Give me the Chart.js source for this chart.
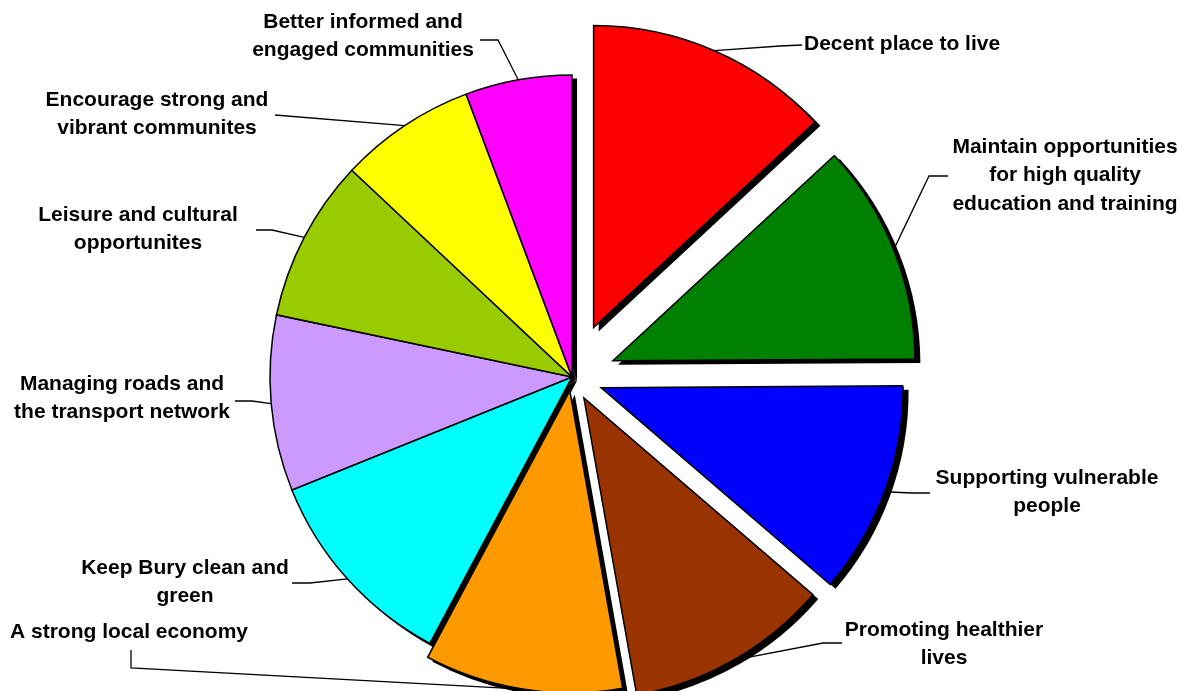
<!DOCTYPE html>
<html>
<head>
<meta charset="utf-8">
<script src="https://cdn.jsdelivr.net/npm/chart.js@4"></script>
<style>
  html, body { margin: 0; background: #fff; }
  #wrap { width: 1185px; height: 691px; }
</style>
</head>
<body>
<div id="wrap"><canvas id="pie"></canvas></div>
<script>
const categories = [
  ['Decent place to live'],
  ['Maintain opportunities', 'for high quality', 'education and training'],
  ['Supporting vulnerable', 'people'],
  ['Promoting healthier', 'lives'],
  ['A strong local economy'],
  ['Keep Bury clean and', 'green'],
  ['Managing roads and', 'the transport network'],
  ['Leisure and cultural', 'opportunites'],
  ['Encourage strong and', 'vibrant communites'],
  ['Better informed and', 'engaged communities']
];
const shares = [13.1, 11.8, 11.4, 10.9, 10.6, 11.1, 9.4, 8.7, 7.3, 5.7];

const sliceColors = ['#FF0000', '#008000', '#0000FF', '#993300', '#FF9900',
                     '#00FFFF', '#CC99FF', '#99CC00', '#FFFF00', '#FF00FF'];
// how far each slice is pulled out from the centre, px
const explode = [54, 44, 31, 24, 14, 0, 0, 0, 0, 0];
// label text anchor + leader points on the label side (the slice end is computed)
const labelSpots = [
  { x: 804,  y: 44,  align: 'left',   leader: [[802, 45], [780, 46]] },
  { x: 1065, y: 147, align: 'center', leader: [[948, 176], [929, 176]] },
  { x: 1047, y: 478, align: 'center', leader: [[930, 493], [912, 493]] },
  { x: 944,  y: 630, align: 'center', leader: [[842, 643], [823, 643]] },
  { x: 10,   y: 632, align: 'left',   leader: [[131, 650], [131, 668]] },
  { x: 185,  y: 568, align: 'center', leader: [[292, 583], [310, 583]] },
  { x: 122,  y: 384, align: 'center', leader: [[235, 401], [252, 401]] },
  { x: 138,  y: 215, align: 'center', leader: [[256, 230], [272, 230]] },
  { x: 157,  y: 100, align: 'center', leader: [[275, 115]] },
  { x: 363,  y: 22,  align: 'center', leader: [[480, 40], [498, 40]] }
];
const SHADOW = 5;
const LINE_H = 28.5;
const FONT = 'bold 21px "Liberation Sans", Arial, sans-serif';

function sliceGeom(arc, i) {
  const p = arc.getProps(['x', 'y', 'startAngle', 'endAngle', 'outerRadius'], true);
  const mid = (p.startAngle + p.endAngle) / 2;
  return {
    ...p, mid,
    dx: Math.cos(mid) * explode[i],
    dy: Math.sin(mid) * explode[i]
  };
}

// pulls slices apart and puts a hard black shadow under the whole pie
const explodedPie = {
  id: 'explodedPie',
  beforeDatasetDraw(chart, args) {
    const ctx = chart.ctx;
    const arcs = args.meta.data;
    ctx.save();
    ctx.fillStyle = '#000';
    arcs.forEach((arc, i) => {
      const g = sliceGeom(arc, i);
      const cx = g.x + g.dx + SHADOW, cy = g.y + g.dy + SHADOW - 1;
      ctx.beginPath();
      ctx.moveTo(cx, cy);
      ctx.arc(cx, cy, g.outerRadius + 0.5, g.startAngle, g.endAngle);
      ctx.closePath();
      ctx.fill();
    });
    ctx.restore();
    arcs.forEach((arc, i) => {
      const g = sliceGeom(arc, i);
      ctx.save();
      ctx.translate(g.dx, g.dy);
      arc.draw(ctx, chart.chartArea);
      ctx.restore();
    });
    return false;
  },
  afterDatasetsDraw(chart) {
    const ctx = chart.ctx;
    const arcs = chart.getDatasetMeta(0).data;
    ctx.save();
    ctx.strokeStyle = '#000';
    ctx.lineWidth = 1.3;
    ctx.fillStyle = '#000';
    ctx.font = FONT;
    ctx.textBaseline = 'middle';
    arcs.forEach((arc, i) => {
      const g = sliceGeom(arc, i);
      const spot = labelSpots[i];
      const ex = g.x + g.dx + Math.cos(g.mid) * g.outerRadius;
      const ey = g.y + g.dy + Math.sin(g.mid) * g.outerRadius;
      ctx.beginPath();
      spot.leader.forEach(([lx, ly], k) => k ? ctx.lineTo(lx, ly) : ctx.moveTo(lx, ly));
      ctx.lineTo(ex, ey);
      ctx.stroke();
      ctx.textAlign = spot.align;
      chart.data.labels[i].forEach((line, k) => {
        ctx.fillText(line, spot.x, spot.y + k * LINE_H);
      });
    });
    ctx.restore();
  }
};

new Chart(document.getElementById('pie'), {
  type: 'pie',
  data: {
    labels: categories,
    datasets: [{
      data: shares,
      backgroundColor: sliceColors,
      borderColor: '#000',
      borderWidth: 1.5,
      borderJoinStyle: 'miter',
      radius: 302,
      clip: false
    }]
  },
  options: {
    responsive: true,
    maintainAspectRatio: false,
    animation: false,
    events: [],
    layout: { padding: { left: 0, right: 41, top: 63, bottom: 0 } },
    plugins: {
      legend: { display: false },
      tooltip: { enabled: false }
    }
  },
  plugins: [explodedPie]
});
</script>
</body>
</html>
